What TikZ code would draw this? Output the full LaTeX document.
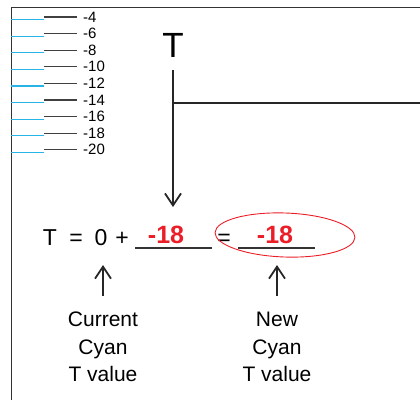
\documentclass[tikz,border=0pt]{standalone}
\usepackage{fontspec}
\setmainfont{Liberation Sans}
\usetikzlibrary{arrows.meta,positioning}

\definecolor{tickcyan}{RGB}{40,180,230}
\definecolor{valred}{RGB}{235,30,40}

\begin{document}
\begin{tikzpicture}[
        x=1pt, y=-1pt,
        tick/.style={font=\fontsize{15}{17}\selectfont, anchor=west, inner sep=0pt},
        eqn/.style={font=\fontsize{23}{26}\selectfont, anchor=base, inner sep=0pt},
        val/.style={font=\fontsize{25}{28}\selectfont\bfseries, text=valred, anchor=base, inner sep=0pt},
        caption/.style={font=\fontsize{21}{27.5}\selectfont, align=center, anchor=north, inner sep=0pt},
        arr/.style={-{Straight Barb[length=12pt,width=16pt,line width=1.8pt]}, line width=1.8pt, black!85},
        blank/.style={line width=1.1pt, black!80},
    ]
    \useasboundingbox (0,0) rectangle (420,400);

    % frame
    \draw[line width=0.8pt, black!80] (11,400) -- (11,7) -- (420,7);

    % scale ticks
    \foreach \v [count=\i from 0] in {4,6,8,10,12,14,16,18,20} {
        \draw[tickcyan, line width=1.2pt] (11,{19.5+16.6*\i}) -- (44,{19.5+16.6*\i});
        \draw[black!75, line width=1.2pt] (44,{17+16.6*\i}) -- (77,{17+16.6*\i});
        \node[tick] (lab\v) at (83,{17+16.6*\i}) {-\v};
    }

    % T channel
    \node[font=\fontsize{35}{38}\selectfont, inner sep=0pt] (tlabel) at (173,45) {T};
    \coordinate (ttop) at (173,70);
    \coordinate (tbranch) at (173,103);
    \coordinate (tright) at (420,103);
    \coordinate (ttip) at (173,207);
    \draw[arr] (ttop) -- (ttip);
    \draw[line width=1.6pt, black!85] (tbranch) -- (tright);

    % equation
    \node[eqn] (tsym) at (50,245) {T};
    \node[eqn] (eqa) at (76,245) {=};
    \node[eqn] (zero) at (101,245) {0};
    \node[eqn] (plus) at (122,245) {+};
    \coordinate (blankaL) at (135,248);
    \coordinate (blankaR) at (212,248);
    \draw[blank] (blankaL) -- (blankaR);
    \node[val] (adj) at (166,243) {-18};
    \node[eqn] (eqb) at (224,245) {=};
    \coordinate (blankbL) at (238,248);
    \coordinate (blankbR) at (315,248);
    \draw[blank] (blankbL) -- (blankbR);
    \node[val] (result) at (275,243) {-18};
    \draw[valred, line width=0.9pt, rotate around={-2:(285,235)}] (285,235) ellipse [x radius=70, y radius=22];

    % captions
    \node[caption] (current) at (103,312) {Current\\Cyan\\T value};
    \node[caption] (new) at (277,312) {New\\Cyan\\T value};
    \coordinate (ctip) at (103,265);
    \coordinate (ntip) at (277,265);
    \draw[arr] (current.north) ++(0,-16) -- (ctip);
    \draw[arr] (new.north) ++(0,-16) -- (ntip);
\end{tikzpicture}
\end{document}
